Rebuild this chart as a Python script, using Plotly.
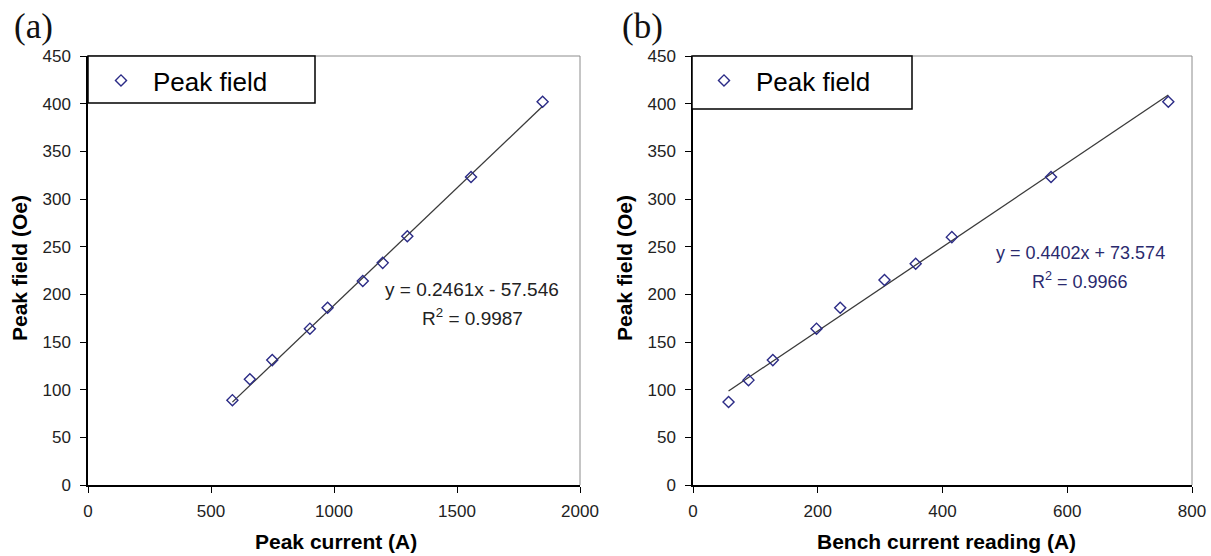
import plotly.graph_objects as go

# Measured peak field (Oe) against the two current readings
peak_current = [587, 658, 749, 902, 974, 1117, 1198, 1298, 1557, 1848]
peak_field_a = [89, 111, 131, 164, 186, 214, 233, 261, 323, 402]

bench_current = [57, 89, 128, 198, 236, 307, 357, 415, 574, 762]
peak_field_b = [87, 110, 131, 164, 186, 215, 232, 260, 323, 402]

# Linear fits (slope, intercept, R^2)
slope_a, intercept_a, r2_a = 0.2461, -57.546, 0.9987
slope_b, intercept_b, r2_b = 0.4402, 73.574, 0.9966

y_ticks = [0, 50, 100, 150, 200, 250, 300, 350, 400, 450]
x_ticks_a = [0, 500, 1000, 1500, 2000]
x_ticks_b = [0, 200, 400, 600, 800]

W, H = 1211, 556
MARK = "#2b2b86"
FIT = "#3a3a3a"


def px(x):
    return x / W


def py(y):
    return 1 - y / H


def fit_line(xs, m, b):
    xl = [min(xs), max(xs)]
    return xl, [m * v + b for v in xl]


fig = go.Figure()

xa, ya = fit_line(peak_current, slope_a, intercept_a)
fig.add_trace(go.Scatter(x=xa, y=ya, mode="lines", line=dict(color=FIT, width=1.3),
                         showlegend=False, xaxis="x", yaxis="y", hoverinfo="skip"))
fig.add_trace(go.Scatter(x=peak_current, y=peak_field_a, mode="markers", name="Peak field",
                         marker=dict(symbol="diamond-open", size=8.5, color=MARK,
                                     line=dict(width=1.4, color=MARK)),
                         xaxis="x", yaxis="y", legend="legend"))

xb, yb = fit_line(bench_current, slope_b, intercept_b)
fig.add_trace(go.Scatter(x=xb, y=yb, mode="lines", line=dict(color=FIT, width=1.3),
                         showlegend=False, xaxis="x2", yaxis="y2", hoverinfo="skip"))
fig.add_trace(go.Scatter(x=bench_current, y=peak_field_b, mode="markers", name="Peak field",
                         marker=dict(symbol="diamond-open", size=8.5, color=MARK,
                                     line=dict(width=1.4, color=MARK)),
                         xaxis="x2", yaxis="y2", legend="legend2"))

tick_font = dict(family="Liberation Sans, Arial", size=17, color="#222")
common_x = dict(ticks="outside", ticklen=6, tickcolor="#000", tickwidth=1.3,
                showline=True, linecolor="#000", linewidth=1.5, showgrid=False,
                zeroline=False, tickfont=tick_font, automargin=False, ticklabelstandoff=4)
common_y = dict(common_x, range=[0, 450], tickvals=y_ticks,
                domain=[py(485), py(56)], ticklabelstandoff=6)

# Legend entries sit inside framed boxes drawn as shapes below
legend_style = dict(bgcolor="rgba(0,0,0,0)", borderwidth=0,
                    font=dict(family="Liberation Sans, Arial", size=26, color="#000"),
                    xanchor="left", yanchor="top", itemwidth=54)

fig.update_layout(
    width=W, height=H,
    margin=dict(l=0, r=0, t=0, b=0),
    paper_bgcolor="white", plot_bgcolor="white",
    xaxis=dict(common_x, domain=[px(88), px(580)], range=[0, 2000], tickvals=x_ticks_a, anchor="y"),
    yaxis=dict(common_y, anchor="x"),
    xaxis2=dict(common_x, domain=[px(693), px(1192)], range=[0, 800], tickvals=x_ticks_b, anchor="y2"),
    yaxis2=dict(common_y, anchor="x2"),
    legend=dict(legend_style, x=px(89), y=py(57)),
    legend2=dict(legend_style, x=px(692), y=py(57)),
    showlegend=True,
)

# Grey top and right frame of each plot area
for xr, yr in (("x", "y"), ("x2", "y2")):
    for x0, y0, x1, y1 in ((0, 1, 1, 1), (1, 0, 1, 1)):
        fig.add_shape(type="line", xref=f"{xr} domain", yref=f"{yr} domain",
                      x0=x0, y0=y0, x1=x1, y1=y1, line=dict(color="#8c8c8c", width=1))

# Legend frames
for x0, x1, y1 in ((88, 315, 103), (692, 912, 109)):
    fig.add_shape(type="rect", xref="paper", yref="paper",
                  x0=px(x0), x1=px(x1), y0=py(y1), y1=py(56),
                  fillcolor="white", line=dict(color="#000", width=1.5))

title_font = dict(family="Liberation Sans, Arial", size=21, color="#000")
ann = []
# Panel labels
ann.append(dict(text="(a)", x=px(12), y=py(26), xanchor="left", yanchor="middle",
                font=dict(family="Liberation Serif, Times New Roman", size=35, color="#111")))
ann.append(dict(text="(b)", x=px(620), y=py(26), xanchor="left", yanchor="middle",
                font=dict(family="Liberation Serif, Times New Roman", size=35, color="#111")))
# Axis titles
ann.append(dict(text="<b>Peak current (A)</b>", x=px(336), y=py(541), font=title_font))
ann.append(dict(text="<b>Bench current reading (A)</b>", x=px(946), y=py(541), font=title_font))
ann.append(dict(text="<b>Peak field (Oe)</b>", x=px(19), y=py(268), textangle=-90, font=title_font))
ann.append(dict(text="<b>Peak field (Oe)</b>", x=px(624), y=py(268), textangle=-90, font=title_font))

# Fit equations
sign_a = "-" if intercept_a < 0 else "+"
sign_b = "-" if intercept_b < 0 else "+"
eq_font_a = dict(family="Liberation Sans, Arial", size=19, color="#222")
eq_font_b = dict(family="Liberation Sans, Arial", size=18, color="#2a2a6e")
ann.append(dict(text=f"y = {slope_a}x {sign_a} {abs(intercept_a)}", x=px(472), y=py(289), font=eq_font_a))
ann.append(dict(text=f"R<sup>2</sup> = {r2_a}", x=px(472), y=py(317), font=eq_font_a))
ann.append(dict(text=f"y = {slope_b}x {sign_b} {abs(intercept_b)}", x=px(1080), y=py(253), font=eq_font_b))
ann.append(dict(text=f"R<sup>2</sup> = {r2_b}", x=px(1080), y=py(280), font=eq_font_b))

for a in ann:
    a.setdefault("xanchor", "center")
    a.setdefault("yanchor", "middle")
    fig.add_annotation(xref="paper", yref="paper", showarrow=False, **a)

fig.write_html("out.html")
